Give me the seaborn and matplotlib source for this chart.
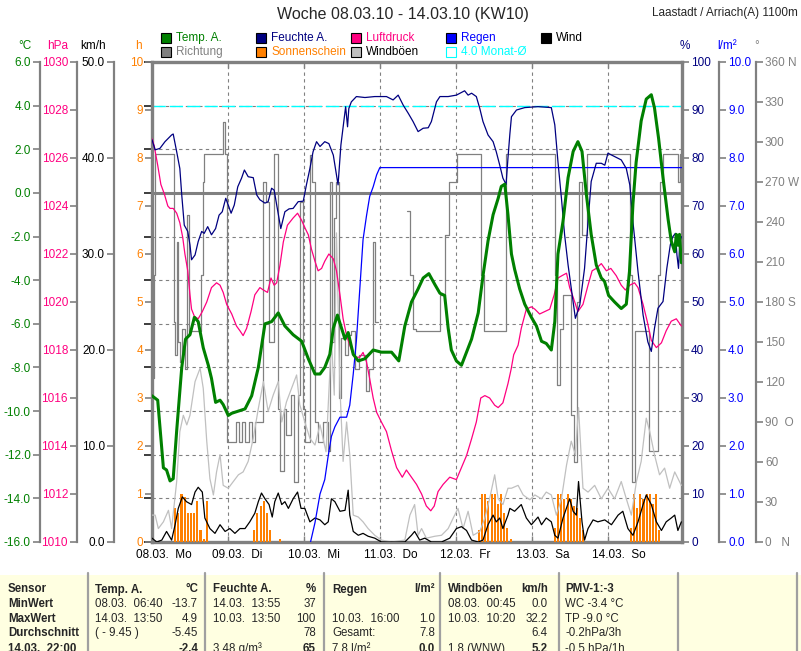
import numpy as np
import pandas as pd
import matplotlib
matplotlib.use("Agg")
import matplotlib.pyplot as plt
import seaborn as sns
from matplotlib.patches import Rectangle
from matplotlib.lines import Line2D
import matplotlib.transforms as mtransforms

# ---------------- data ----------------
day_labels = ["08.03.  Mo", "09.03.  Di", "10.03.  Mi", "11.03.  Do", "12.03.  Fr", "13.03.  Sa", "14.03.  So"]
day_hours = [0, 24, 48, 72, 96, 120, 144]

temperature_pts = [(0, -9.3), (1.8, -9.5), (3.6, -12.6), (4.6, -12.7), (5.7, -13.2), (6.7, -13.1), (7.8, -10.9),
    (9.4, -8.0), (10.6, -6.7), (12, -6.5), (13.4, -5.7), (14.6, -5.9), (16.2, -7.1), (17.8, -7.9), (18.8, -8.5),
    (20.1, -9.6), (21.5, -9.5), (22.5, -9.7), (24.1, -10.2), (25.2, -10.1), (27.3, -10.0), (29.4, -9.9),
    (31.5, -9.3), (33.6, -8.0), (35.7, -6.0), (37.8, -5.9), (39.9, -5.5), (42, -6.1), (44.6, -6.5), (47.3, -6.8),
    (49.4, -7.6), (51.5, -8.3), (53.1, -8.3), (54.6, -8.0), (56.2, -7.4), (57.3, -6.2), (58.6, -5.6), (59.9, -6.2),
    (61, -6.7), (62, -6.4), (63.6, -7.4), (65.2, -7.7), (67.3, -7.6), (69.9, -7.2), (72.5, -7.3), (75.7, -7.3),
    (78, -7.7), (79.9, -6.1), (82, -5.0), (84.1, -4.4), (85.7, -3.9), (87.5, -3.7), (89.4, -4.2), (91, -4.6),
    (92.5, -4.7), (93.6, -6.2), (94.6, -7.2), (96.2, -7.7), (97.8, -7.9), (99.4, -7.3), (101, -6.7), (103.1, -5.5),
    (104.6, -3.8), (106.2, -2.2), (107.8, -1.0), (109.4, -0.25), (110.4, 0.3), (111.5, 0.4), (112.5, -1.0),
    (113.6, -2.8), (114.6, -3.5), (116.2, -4.4), (117.8, -5.1), (119.9, -5.7), (121.5, -6.1), (123.1, -6.8),
    (124.6, -6.9), (126.2, -7.2), (127.3, -5.9), (128.3, -2.8), (129.9, -1.3), (131.5, 0.7), (133.1, 1.9),
    (134.6, 2.35), (135.9, 1.9), (137.3, -0.1), (138.8, -1.9), (140.4, -3.3), (142, -3.9), (143, -4.05),
    (144.3, -4.7), (146.2, -5.0), (148.3, -5.3), (149.9, -5.1), (150.9, -3.6), (152, -0.5), (153, 1.4),
    (154.6, 3.3), (156.2, 4.3), (157.8, 4.5), (158.8, 3.9), (160.1, 2.5), (161.5, 0.7), (163.1, -1.2),
    (164.1, -2.2), (165.2, -2.7), (165.7, -1.9), (166.2, -2.4), (166.7, -1.9), (167.3, -3.2)]

humidity_pts = [(0, 83.8), (1, 81.7), (2.5, 82), (4.1, 83.4), (6.2, 84.8), (6.7, 85), (7.8, 81.3), (8.8, 77.8),
    (9.4, 72.3), (10.2, 66), (11.3, 64.7), (12, 61.9), (12.5, 58.8), (13.6, 59.8), (14.6, 62.6), (15.7, 64.7),
    (16.5, 64.3), (17.6, 65.7), (18.8, 64), (20.1, 65.3), (21.2, 68.1), (22.2, 68.8), (23.3, 71.6), (24.1, 70.2),
    (25, 68.5), (26, 70.2), (27.1, 74), (28.3, 75.8), (29.2, 77.5), (30.4, 76.1), (32, 75.9), (33.1, 72.3),
    (34.1, 71.3), (35.7, 70.6), (36.7, 70.9), (37.8, 73.7), (38.6, 73.3), (39.4, 70.2), (40.1, 67.4), (40.7, 65.3),
    (42, 68.8), (43.3, 69.4), (44.6, 69.5), (46.2, 70.9), (47.8, 71), (48.8, 74.4), (49.9, 77.8), (50.9, 81.3),
    (52, 83.4), (53.1, 82.4), (54.6, 83.4), (55.9, 83), (57.3, 80.6), (58.3, 76.5), (58.8, 74.4), (59.7, 82.7),
    (60.4, 86.5), (61.2, 90.7), (61.8, 86.5), (62.2, 90.3), (63, 91.7), (64.6, 92.8), (67.3, 92.6), (70.4, 92.8),
    (74.1, 92.8), (76.2, 92.1), (77.8, 93.1), (79.4, 91), (81, 89.3), (82.5, 87.6), (84.1, 85.5), (85.7, 86.2),
    (87.3, 86.3), (88.3, 87.6), (89.9, 91.7), (91, 92.8), (93.6, 92.8), (96.2, 93.1), (98.8, 94), (99.9, 93.1),
    (101, 93.5), (102.5, 92.8), (103.6, 90.3), (104.6, 87.6), (106.2, 84.8), (107.8, 83.4), (108.8, 81.3),
    (109.9, 78.5), (110.9, 75.8), (111.9, 74.5), (112.5, 80), (113.1, 85), (113.6, 88.6), (115.2, 90),
    (117.8, 90.5), (122, 90.7), (126.2, 90.5), (127.3, 86.9), (128.3, 79.2), (129.4, 71.6), (130.4, 64),
    (131.5, 57.7), (132.5, 52.8), (133.8, 46.6), (135.2, 49.4), (136.7, 57), (137.8, 66.7), (138.8, 75.1),
    (140.4, 78.9), (142, 78.9), (143.1, 78.5), (144.1, 81), (146.2, 80.3), (148.3, 79.6), (149.9, 77.8),
    (151, 74.4), (152, 66.7), (153.6, 56.3), (155.2, 47.3), (156.7, 41.7), (157.8, 39.7), (158.8, 44.5),
    (159.9, 48.7), (161.5, 50.1), (162.7, 57), (163.8, 61.9), (164.6, 63.6), (165.4, 64.3), (165.9, 59.8),
    (166.4, 57), (166.8, 62.6), (167.3, 63.6)]

pressure_pts = [(0, 1026.8), (0.7, 1026.5), (1.8, 1025.7), (2.8, 1024.9), (3.9, 1024.5), (5, 1024.0), (5.7, 1023.9),
    (6.7, 1023.9), (7.8, 1023.7), (8.8, 1023.3), (9.7, 1022.7), (10.4, 1022.0), (11.3, 1021.3), (12, 1020.3),
    (12.5, 1019.7), (13.4, 1019.4), (14.6, 1019.3), (15.9, 1019.6), (17.3, 1020.0), (18.8, 1020.6), (20.4, 1020.8),
    (21.5, 1020.7), (22.5, 1020.4), (23.6, 1019.9), (25.2, 1019.5), (26.7, 1019.0), (27.8, 1018.8), (28.8, 1018.6),
    (29.9, 1018.9), (31.3, 1019.6), (32.5, 1020.3), (34.1, 1020.6), (35.2, 1020.5), (36.5, 1020.4), (37.6, 1021.0),
    (38.6, 1020.7), (39.4, 1020.8), (40.4, 1021.5), (41.5, 1022.5), (42.8, 1023.2), (44.6, 1023.5), (46, 1023.7),
    (47.3, 1023.4), (48.3, 1023.1), (49.4, 1022.8), (50.4, 1022.2), (51.5, 1021.7), (52.5, 1021.3), (53.6, 1021.4),
    (54.6, 1021.7), (55.9, 1022.0), (57.3, 1021.8), (58.3, 1021.3), (59.4, 1020.3), (60.4, 1019.3), (61.5, 1018.6),
    (62.5, 1018.2), (63.6, 1017.8), (64.6, 1017.7), (65.7, 1017.7), (66.7, 1017.9), (67.8, 1017.5), (68.8, 1016.8),
    (69.9, 1016.0), (71, 1015.4), (72.5, 1015.0), (74.1, 1014.6), (75.7, 1013.8), (77.3, 1013.1), (79.1, 1012.7),
    (80.4, 1013.0), (82, 1012.7), (83.6, 1012.4), (85.2, 1012.0), (86.7, 1011.5), (88.1, 1011.3), (89.2, 1011.5),
    (90.4, 1012.1), (92, 1012.4), (94.1, 1012.7), (96.2, 1012.6), (97.8, 1013.1), (99.4, 1013.6), (101, 1014.3),
    (102.5, 1015.0), (103.9, 1016.0), (105.2, 1016.1), (106.7, 1016.0), (108.3, 1015.7), (109.4, 1015.6),
    (110.9, 1015.8), (112.5, 1016.6), (113.5, 1017.2), (114.3, 1017.8), (115.7, 1018.2), (116.7, 1018.9),
    (118.3, 1019.7), (119.9, 1019.8), (121, 1019.7), (122.5, 1019.5), (124.1, 1019.6), (125.7, 1019.7),
    (127.1, 1020.3), (128.3, 1021.0), (129.6, 1021.1), (131, 1021.2), (132, 1020.6), (133.1, 1020.2),
    (134.6, 1019.6), (136.2, 1019.9), (137.8, 1020.7), (139.1, 1021.3), (140.4, 1021.4), (142, 1021.6),
    (143.6, 1021.3), (145, 1021.4), (146.7, 1021.1), (148.3, 1020.7), (149.6, 1020.5), (151, 1020.7),
    (152.5, 1020.8), (153.6, 1020.6), (155.2, 1019.9), (156.5, 1019.2), (157.8, 1018.4), (159.4, 1018.1),
    (161, 1018.3), (162.5, 1018.8), (164.1, 1019.2), (165.7, 1019.3), (167.3, 1019.0)]

direction_pts = [(0, 123), (0.6, 200), (1.1, 291), (6.8, 165), (7.3, 140), (7.8, 225), (8.2, 150), (9.0, 135),
    (9.6, 160), (10.4, 130), (11.2, 245), (11.7, 158), (15.5, 200), (16.0, 270), (16.5, 291), (22.5, 315),
    (23.0, 291), (23.6, 75), (26.5, 90), (27.5, 75), (28.5, 90), (29.5, 75), (30.5, 90), (31.5, 75), (32.5, 90),
    (35.0, 270), (36.0, 255), (37.0, 150), (38.5, 291), (39.8, 100), (40.4, 53), (41.8, 100), (42.5, 80),
    (44.0, 110), (45.0, 45), (46.0, 110), (46.8, 255), (47.6, 100), (48.5, 75), (50.0, 290), (50.6, 270),
    (51.4, 90), (52.5, 75), (54.0, 90), (55.5, 68), (56.3, 270), (57.0, 150), (57.6, 243), (58.3, 270),
    (59.0, 108), (59.6, 153), (61.0, 140), (62.0, 155), (63.0, 158), (64.0, 130), (65.5, 140), (67.5, 113),
    (68.5, 130), (70.0, 225), (70.6, 165), (71.5, np.nan), (80.6, 248), (81.5, 200), (82.5, 160), (83.5, 158),
    (91.0, 185), (92.5, 230), (93.8, 270), (96.5, 291), (104.0, 200), (105.0, 158), (112.0, 291), (127.3, 200),
    (128.0, 118), (129.0, 160), (130.0, 185), (132.5, 95), (133.5, 60), (134.3, 180), (135.0, 270), (136.0, 230),
    (137.5, 291), (151.2, 200), (151.7, 45), (152.5, 158), (157.0, 68), (159.8, 200), (160.5, 270),
    (161.5, 291), (166.3, 270), (166.8, 291), (167.5, 291)]

gust_pts = [(0, 2.8), (1, 2.8), (2, 1.4), (3.6, 2.1), (5.2, 3.3), (6.2, 1.4), (7.8, 6.3), (8.8, 11.5), (9.9, 13.2),
    (11, 12.2), (12, 13.2), (13.6, 16.7), (15.2, 18.1), (16.2, 16), (17.3, 10.5), (18.3, 6.6), (19.4, 4.9),
    (20.4, 7.3), (21.5, 9.1), (22.5, 5.9), (24.1, 5.6), (25.7, 6.3), (27.3, 7), (28.8, 7.3), (30.4, 8.4),
    (32, 10.8), (33.6, 13.9), (35.2, 16.7), (36.7, 13.6), (38.3, 15.3), (39.9, 16.7), (41, 12.5), (42.5, 14.6),
    (44.1, 16), (45.7, 17.4), (46.7, 14.3), (48.3, 12.5), (49.9, 10.8), (51.5, 10.1), (53.1, 12.2), (55, 9.4),
    (56.7, 21.2), (57.6, 15.3), (58.3, 32.2), (59.4, 16), (60.4, 8.4), (61.5, 12.5), (62.5, 9.1), (63.6, 2.8),
    (65.2, 2.6), (66.7, 2.1), (68.3, 1.4), (70.4, 0.7), (72.5, 0.2), (75.7, 0), (79.9, 0.2), (81.5, 2.8),
    (83, 3.9), (84.1, 0.7), (85.2, 1.4), (86.7, 0.4), (89.4, 0.6), (91.5, 0.7), (93.6, 1.4), (95.2, 2.5),
    (96.7, 3.5), (98.3, 1.4), (99.9, 3.2), (101.5, 0.7), (103.6, 1.1), (105.2, 2.5), (106.7, 4.5), (108.3, 7),
    (109.4, 4.5), (110.9, 3.9), (112.5, 5.6), (113.6, 5.6), (115.7, 5.9), (117.3, 4.9), (119.4, 4.4), (121, 4.9),
    (123.1, 4.5), (124.6, 5.2), (126.2, 4.9), (127.8, 2.8), (129.4, 4.5), (131, 8), (132.5, 10.5), (133.8, 9.1),
    (134.8, 14), (136.2, 5.6), (137.8, 5.2), (139.9, 5.9), (142, 4.5), (144.1, 5.6), (146.2, 4.5), (148.3, 6.3),
    (149.9, 4.5), (151.5, 2.8), (153.1, 6.3), (154.6, 8.4), (156.2, 12.9), (157.3, 11.5), (158.8, 9.1),
    (160.4, 7), (162, 7.7), (163.6, 5.6), (165.2, 7.3), (167.3, 5.9)]

wind_pts = [(0, 0.4), (1.5, 0), (3.1, 0.2), (4.6, 1.1), (6.2, 0.2), (7.3, 1.8), (8.3, 3.5), (9.6, 4.7), (10.9, 4.2),
    (12.5, 3.9), (13.6, 5.2), (14.6, 5.7), (15.9, 5.2), (16.7, 2.5), (18.3, 1.4), (19.9, 0.9), (21.5, 1.8),
    (23.1, 1.1), (24.6, 1.4), (26.2, 0.9), (27.8, 1.4), (29.4, 1.4), (30.9, 2.1), (32.5, 3), (33.6, 4.2),
    (34.6, 5.1), (35.7, 4.5), (37, 3.9), (38, 2.6), (38.8, 4.2), (39.9, 5.1), (41, 3.9), (42, 4.2), (43.1, 3.5),
    (44.6, 4.5), (46, 5.2), (47.1, 3.5), (48.3, 3.5), (49.9, 2.1), (51.5, 2.5), (53.1, 2.3), (54.6, 1.8),
    (55.7, 2.1), (56.7, 4.5), (57.8, 4.2), (59.4, 3.2), (61, 3.3), (62, 5.4), (62.5, 2.8), (63.6, 1.1),
    (65.2, 0.7), (66.7, 0.9), (68.3, 0.6), (70.4, 0.4), (72.5, 0), (79.9, 0), (82, 0.7), (83, 1.1), (84.6, 0.2),
    (86.2, 0.4), (88.3, 0), (91.5, 0), (94.1, 0.4), (96.2, 1.4), (97.8, 1.6), (99.4, 1.2), (101, 0.2), (103.1, 0),
    (104.6, 0.2), (106.2, 1.8), (107.8, 2.8), (108.8, 2.1), (109.9, 2.5), (110.9, 1.4), (112.5, 2.8), (113.1, 3.5),
    (114.6, 3.2), (116.7, 3.9), (118.3, 2.5), (119.9, 1.8), (122, 2.6), (123.1, 1.8), (124.6, 2.5), (126.2, 2.1),
    (127.3, 0.7), (128.3, 0.4), (129.9, 2.5), (132, 4.5), (133.1, 3.2), (134.1, 2.8), (134.8, 6.3), (135.9, 2.1),
    (136.7, 0.2), (137.8, 1.4), (139.4, 2.3), (140.9, 2.1), (143.1, 2.3), (145.2, 1.8), (147.3, 2.8), (148.8, 3.2),
    (150.4, 1.4), (152, 0.7), (153.6, 2.1), (155.2, 3.9), (156.2, 4.9), (157.8, 3.9), (159.4, 2.1), (161, 1.2),
    (162.5, 2.1), (164.1, 2.5), (165.2, 2.8), (166.2, 1.2), (167.3, 2.1)]

rain_pts = [(50.1, 0), (51.5, 0.4), (53.1, 1.0), (54.6, 1.3), (55.7, 1.8), (56.7, 2.2), (57.8, 2.4), (59.4, 2.6),
    (61.5, 2.6), (62.5, 2.85), (63.6, 3.5), (64.6, 4.2), (65.7, 5.3), (66.7, 6.3), (67.8, 6.8), (68.8, 7.2),
    (69.9, 7.4), (71.0, 7.65), (72.0, 7.8), (167.5, 7.8)]

sunshine_pts = [(7, 0.7), (8, 0.6), (9, 1.0), (10, 0.93), (11, 0.6), (12, 0.6), (13, 0.6), (14, 0.85), (15, 0.25),
    (16, 0.07), (17, 0.85),
    (32, 0.25), (33, 0.6), (34, 0.75), (35, 0.85), (36, 0.6), (37, 0.25), (40, 0.07),
    (103, 0.25), (104, 1.0), (105, 1.0), (106, 0.85), (107, 1.0), (108, 1.0), (109, 0.8), (110, 1.0), (111, 0.6),
    (112, 0.3), (113, 0.07),
    (127, 0.3), (128, 1.0), (129, 1.0), (130, 0.9), (131, 1.0), (132, 0.9), (133, 0.75), (134, 0.7), (135, 0.5),
    (136, 0.25),
    (151, 0.3), (152, 1.0), (153, 0.7), (154, 1.0), (155, 0.9), (156, 1.0), (157, 1.0), (158, 0.8), (159, 1.0),
    (160, 0.25)]

month_avg_temp = 4.0

temp_ticks = np.arange(-16, 7, 2)
hpa_ticks = np.arange(1010, 1031, 2)
kmh_ticks = np.arange(0, 51, 10)
h_ticks = np.arange(0, 11, 1)
pct_ticks = np.arange(0, 101, 10)
rain_ticks = np.arange(0, 11, 1)
dir_ticks = np.arange(0, 361, 30)
dir_labels = ["0   N", "30", "60", "90  O", "120", "150", "180 S", "210", "240", "270 W", "300", "330", "360 N"]

table_header = ["Sensor", "Temp. A.", "°C", "Feuchte A.", "%", "Regen", "l/m²", "Windböen", "km/h", "PMV-1:-3"]
table_rows = [
    ["MinWert", "08.03.  06:40", "-13.7", "14.03.  13:55", "37", "", "", "08.03.  00:45", "0.0", "WC -3.4 °C"],
    ["MaxWert", "14.03.  13:50", "4.9", "10.03.  13:50", "100", "10.03.  16:00", "1.0", "10.03.  10:20", "32.2", "TP -9.0 °C"],
    ["Durchschnitt", "( - 9.45 )", "-5.45", "", "78", "Gesamt:", "7.8", "", "6.4", "-0.2hPa/3h"],
    ["14.03.  22:00", "", "-2.4", "3.48 g/m³", "65", "7.8 l/m²", "0.0", "1.8 (WNW)", "5.2", "-0.5 hPa/1h"],
]

# ---------------- colours ----------------
C_TEMP = "#008000"
C_DIR = "#808080"
C_HUM = "#000080"
C_SUN = "#FF8000"
C_HPA = "#FF0080"
C_GUST = "#C0C0C0"
C_RAIN = "#0000FF"
C_AVG = "#00FFFF"
C_WIND = "#000000"
C_AX = "#808080"

sns.set_theme(style="white")
plt.rcParams['font.family'] = ['Liberation Sans', 'DejaVu Sans']

W, H = 801, 651
fig = plt.figure(figsize=(W / 100, H / 100), dpi=100)
fig.patch.set_facecolor("white")


def fx(px):
    return px / W


def fy(py):
    return 1 - py / H


L, R, T, B = 152, 682, 62, 542
XMAX = 167.5
ax0 = fig.add_axes([fx(L), fy(B), (R - L) / W, (B - T) / H])
ax0.set_facecolor("white")
ax0.set_xlim(0, XMAX)
ax0.set_ylim(-16, 6)
ax0.set_yticks(temp_ticks)
ax0.tick_params(axis="y", left=False, right=False, labelleft=False)
ax0.grid(True, color=C_AX, linestyle=(0, (3, 3)), linewidth=0.8)
for s in ax0.spines.values():
    s.set_color(C_AX)
    s.set_linewidth(2.4)
ax0.set_xticks(day_hours)
ax0.set_xticklabels(day_labels)
ax0.tick_params(axis="x", bottom=True, top=True, direction="in", length=4, width=1, color=C_AX,
                labelsize=8.5, labelcolor="black", pad=5)
offset = mtransforms.ScaledTranslation(-16 / 100, 0, fig.dpi_scale_trans)
for lab in ax0.get_xticklabels():
    lab.set_horizontalalignment("left")
    lab.set_transform(lab.get_transform() + offset)

# reference lines on temperature scale
ax0.axhline(0, color=C_AX, linewidth=2.2, zorder=1)
ax0.axhline(month_avg_temp, color=C_AVG, linewidth=1.0, linestyle=(0, (9.5, 3)), zorder=1)


def make_twin(ylim, side, pos, ticks, labels, label_color, show_spine=True):
    a = ax0.twinx()
    a.set_ylim(*ylim)
    a.grid(False)
    for s in a.spines.values():
        s.set_visible(False)
    sp = a.spines[side]
    sp.set_visible(show_spine)
    sp.set_position(("axes", pos))
    sp.set_color(C_AX)
    sp.set_linewidth(1.6)
    if side == "left":
        a.yaxis.tick_left()
    else:
        a.yaxis.tick_right()
    a.set_yticks(ticks)
    a.set_yticklabels(labels)
    a.tick_params(axis="y", colors=C_AX, labelcolor=label_color, length=5, width=1.2, labelsize=8.5, pad=1.5)
    a.set_xlim(0, XMAX)
    a.patch.set_visible(False)
    return a


ax_dir = make_twin((0, 360), "right", (756 - L) / (R - L), dir_ticks, dir_labels, C_AX)
ax_h = make_twin((0, 10), "left", 0.0, h_ticks, [str(v) for v in h_ticks], C_SUN, show_spine=False)
ax_kmh = make_twin((0, 50), "left", (114 - L) / (R - L), kmh_ticks, [f"{v:.1f}" for v in kmh_ticks], "black")
ax_rain = make_twin((0, 10), "right", (719 - L) / (R - L), rain_ticks, [f"{v:.1f}" for v in rain_ticks], C_RAIN)
ax_hpa = make_twin((1010, 1030), "left", (77 - L) / (R - L), hpa_ticks, [str(v) for v in hpa_ticks], C_HPA)
ax_hum = make_twin((0, 100), "right", 1.0, pct_ticks, [str(v) for v in pct_ticks], C_HUM, show_spine=False)
ax_temp = make_twin((-16, 6), "left", (40 - L) / (R - L), temp_ticks, [f"{v:.1f}" for v in temp_ticks], C_TEMP)

# ---------------- series ----------------
d_dir = pd.DataFrame(direction_pts, columns=["t", "v"])
ax_dir.plot(d_dir["t"], d_dir["v"], drawstyle="steps-post", color=C_DIR, linewidth=0.9)

d_sun = pd.DataFrame(sunshine_pts, columns=["t", "v"])
ax_h.bar(d_sun["t"], d_sun["v"], width=0.65, color=C_SUN, align="edge", linewidth=0)

d_gust = pd.DataFrame(gust_pts, columns=["t", "v"])
sns.lineplot(data=d_gust, x="t", y="v", ax=ax_kmh, color=C_GUST, linewidth=0.9)
d_wind = pd.DataFrame(wind_pts, columns=["t", "v"])
sns.lineplot(data=d_wind, x="t", y="v", ax=ax_kmh, color=C_WIND, linewidth=0.9)

d_rain = pd.DataFrame(rain_pts, columns=["t", "v"])
sns.lineplot(data=d_rain, x="t", y="v", ax=ax_rain, color=C_RAIN, linewidth=0.9)

d_hpa = pd.DataFrame(pressure_pts, columns=["t", "v"])
sns.lineplot(data=d_hpa, x="t", y="v", ax=ax_hpa, color=C_HPA, linewidth=0.9)

d_hum = pd.DataFrame(humidity_pts, columns=["t", "v"])
sns.lineplot(data=d_hum, x="t", y="v", ax=ax_hum, color=C_HUM, linewidth=0.9)

d_temp = pd.DataFrame(temperature_pts, columns=["t", "v"])
sns.lineplot(data=d_temp, x="t", y="v", ax=ax_temp, color=C_TEMP, linewidth=2.2)

for a in [ax_dir, ax_h, ax_kmh, ax_rain, ax_hpa, ax_hum, ax_temp]:
    a.set_xlabel("")
    a.set_ylabel("")
    a.set_xlim(0, XMAX)
ax0.set_xlabel("")

# ---------------- titles / units ----------------
fig.text(fx(403), fy(15), "Woche 08.03.10 - 14.03.10 (KW10)", ha="center", va="center", fontsize=11.5)
fig.text(fx(798), fy(13), "Laastadt / Arriach(A) 1100m", ha="right", va="center", fontsize=8.5)

units = [(25, "°C", C_TEMP), (58, "hPa", C_HPA), (93, "km/h", "black"), (138, "h", C_SUN),
         (685, "%", C_HUM), (727, "l/m²", C_RAIN), (757, "°", C_AX)]
for x, txt, c in units:
    fig.text(fx(x), fy(46), txt, ha="center", va="center", fontsize=8.5, color=c)

# ---------------- legend ----------------
legend_items = [
    (161, 38, C_TEMP, "Temp. A.", C_TEMP, True),
    (161, 52, C_DIR, "Richtung", C_DIR, True),
    (256, 38, C_HUM, "Feuchte A.", C_HUM, True),
    (256, 52, C_SUN, "Sonnenschein", C_SUN, True),
    (351, 38, C_HPA, "Luftdruck", C_HPA, True),
    (351, 52, C_GUST, "Windböen", "black", True),
    (446, 38, C_RAIN, "Regen", C_RAIN, True),
    (446, 52, C_AVG, "4.0 Monat-Ø", C_AVG, False),
    (541, 38, C_WIND, "Wind", "black", True),
]
for x, y, c, txt, tc, filled in legend_items:
    if filled:
        rect = Rectangle((fx(x), fy(y + 5)), 10 / W, 10 / H, transform=fig.transFigure,
                         facecolor=c, edgecolor="black", linewidth=0.8)
    else:
        rect = Rectangle((fx(x), fy(y + 5)), 10 / W, 10 / H, transform=fig.transFigure,
                         facecolor="none", edgecolor=c, linewidth=0.8)
    fig.patches.append(rect)
    fig.text(fx(x + 15), fy(y), txt, ha="left", va="center", fontsize=8.5, color=tc)

# ---------------- table ----------------
fig.patches.append(Rectangle((0, 0), 1, (H - 575) / H, transform=fig.transFigure,
                             facecolor="#FFFFE1", edgecolor="none", zorder=0))
for x in [88, 205, 324, 440, 559, 678, 797]:
    fig.add_artist(Line2D([fx(x), fx(x)], [fy(573), 0], transform=fig.transFigure, color="#A0A0A0", linewidth=1.6))

# column anchors: (x, ha)
col_pos = [(8, "left"), (95, "left"), (198, "right"), (213, "left"), (316, "right"), (332, "left"), (435, "right"),
           (448, "left"), (548, "right"), (565, "left")]
row_y = [589.5, 604, 618.5, 633, 649]
for (x, ha), txt in zip(col_pos, table_header):
    fig.text(fx(x), fy(row_y[0]), txt, ha=ha, va="center", fontsize=8.3, fontweight="bold")
for ri, row in enumerate(table_rows):
    for ci, ((x, ha), txt) in enumerate(zip(col_pos, row)):
        bold = ci == 0 or ri == 3 and ci in (2, 4, 6, 8)
        fig.text(fx(x), fy(row_y[ri + 1]), txt, ha=ha, va="center", fontsize=8.3,
                 fontweight="bold" if bold else "normal")

fig.savefig("out.png", dpi=100, facecolor="white")
